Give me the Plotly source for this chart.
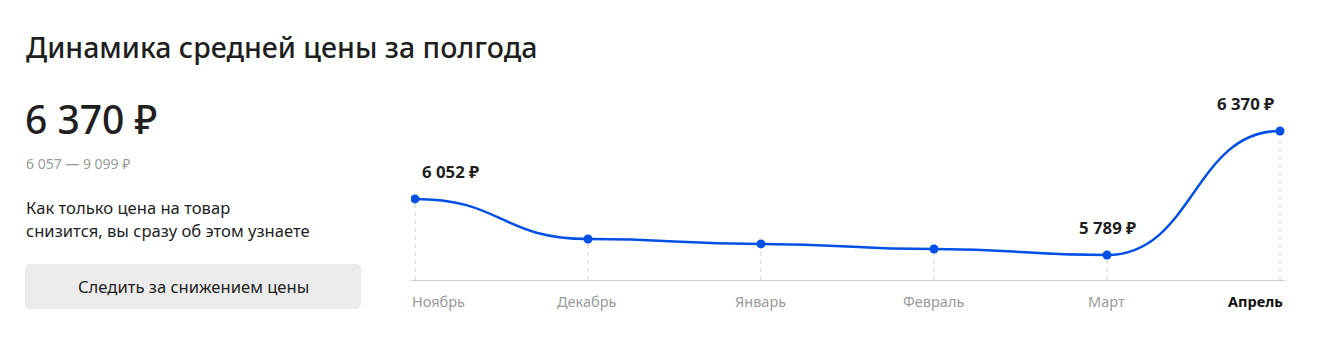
import plotly.graph_objects as go

months = ["Ноябрь", "Декабрь", "Январь", "Февраль", "Март", "Апрель"]
prices = [6052, 5864, 5841, 5817, 5789, 6370]
labeled = [0, 4, 5]  # indices with value labels
title_text = "Динамика средней цены за полгода"
current_price = "6 370 ₽"
price_range = "6 057 — 9 099 ₽"
note_lines = ["Как только цена на товар", "снизится, вы сразу об этом узнаете"]
button_text = "Следить за снижением цены"

W, H = 1342, 358
FONT = "Noto Sans"
BLUE = "#0050e6"


def fmt(v):
    s = f"{v:,}".replace(",", " ")
    return s + " ₽"


def px(x):
    return x / W


def py(y):
    return 1 - y / H


xs = list(range(len(months)))
y_lo, y_hi = 5672, 6562

fig = go.Figure()
fig.add_trace(go.Scatter(
    x=xs, y=prices, mode="markers",
    marker=dict(color=BLUE, size=9),
    hoverinfo="skip", showlegend=False,
))

shapes = []
for x, v in zip(xs, prices):
    shapes.append(dict(type="line", xref="x", yref="y", x0=x, x1=x, y0=y_lo, y1=v,
                       line=dict(color="#cfcfcf", width=1, dash="4px,4px"), layer="below"))

# smooth curve (horizontal-tangent bezier between consecutive data points)
curve = f"M {xs[0]},{prices[0]}"
for i in range(1, len(xs)):
    xm = (xs[i - 1] + xs[i]) / 2
    curve += f" C {xm},{prices[i-1]} {xm},{prices[i]} {xs[i]},{prices[i]}"
shapes.append(dict(type="path", xref="x", yref="y", path=curve,
                   line=dict(color=BLUE, width=2.5), layer="below"))

# button background (rounded rect)
bx0, bx1, by0, by1, r = px(25), px(361), py(309), py(264), 5
rx, ry = r / W, r / H
path = (f"M {bx0+rx},{by0} L {bx1-rx},{by0} Q {bx1},{by0} {bx1},{by0+ry} "
        f"L {bx1},{by1-ry} Q {bx1},{by1} {bx1-rx},{by1} L {bx0+rx},{by1} "
        f"Q {bx0},{by1} {bx0},{by1-ry} L {bx0},{by0+ry} Q {bx0},{by0} {bx0+rx},{by0} Z")
shapes.append(dict(type="path", xref="paper", yref="paper", path=path,
                   fillcolor="#ebebeb", line=dict(width=0)))

ann = []
ann.append(dict(text=title_text, x=px(24), y=py(47), xref="paper", yref="paper",
                xanchor="left", yanchor="middle", showarrow=False,
                font=dict(family=FONT, size=28.5, color="#1f1f1f", weight=500)))
ann.append(dict(text=current_price, x=px(23), y=py(118), xref="paper", yref="paper",
                xanchor="left", yanchor="middle", showarrow=False,
                font=dict(family=FONT, size=39, color="#1f1f1f", weight=500)))
ann.append(dict(text=price_range, x=px(24), y=py(163), xref="paper", yref="paper",
                xanchor="left", yanchor="middle", showarrow=False,
                font=dict(family=FONT, size=14, color="#9a9a9a")))
for i, line in enumerate(note_lines):
    ann.append(dict(text=line, x=px(24), y=py(207 + 24 * i), xref="paper", yref="paper",
                    xanchor="left", yanchor="middle", showarrow=False,
                    font=dict(family=FONT, size=16.6, color="#1f1f1f")))
ann.append(dict(text=button_text, x=px(193), y=py(286), xref="paper", yref="paper",
                xanchor="center", yanchor="middle", showarrow=False,
                font=dict(family=FONT, size=16.6, color="#1f1f1f")))

# month labels
for i, m in enumerate(months):
    if i == 0:
        xa, xshift = "left", -5
    elif i == len(months) - 1:
        xa, xshift = "right", 5
    else:
        xa, xshift = "center", -1
    last = i == len(months) - 1
    ann.append(dict(text=f"<b>{m}</b>" if last else m, x=i, y=py(301), xref="x", yref="paper",
                    xanchor=xa, yanchor="middle", xshift=xshift, showarrow=False,
                    font=dict(family=FONT, size=14.5, color="#111111" if last else "#9a9a9a")))

# value labels
for i in labeled:
    if i == 0:
        xa, xshift = "left", 5
    elif i == len(months) - 1:
        xa, xshift = "right", -4
    else:
        xa, xshift = "center", 0
    ann.append(dict(text=f"<b>{fmt(prices[i])}</b>", x=i, y=prices[i], xref="x", yref="y",
                    xanchor=xa, yanchor="bottom", xshift=xshift, yshift=14, showarrow=False,
                    font=dict(family=FONT, size=16.8, color="#1f1f1f")))

fig.update_layout(
    width=W, height=H, margin=dict(l=0, r=0, t=0, b=0),
    paper_bgcolor="white", plot_bgcolor="white",
    xaxis=dict(domain=[px(411), px(1285)], range=[-4 / 173, 5 + 5 / 173],
               showgrid=False, zeroline=False, showticklabels=False, ticks="",
               showline=True, linecolor="#cccccc", linewidth=1, fixedrange=True),
    yaxis=dict(domain=[py(280), py(90)], range=[y_lo, y_hi], showgrid=False,
               zeroline=False, showticklabels=False, ticks="", showline=False, fixedrange=True),
    shapes=shapes, annotations=ann,
)
fig.write_html("out.html")
